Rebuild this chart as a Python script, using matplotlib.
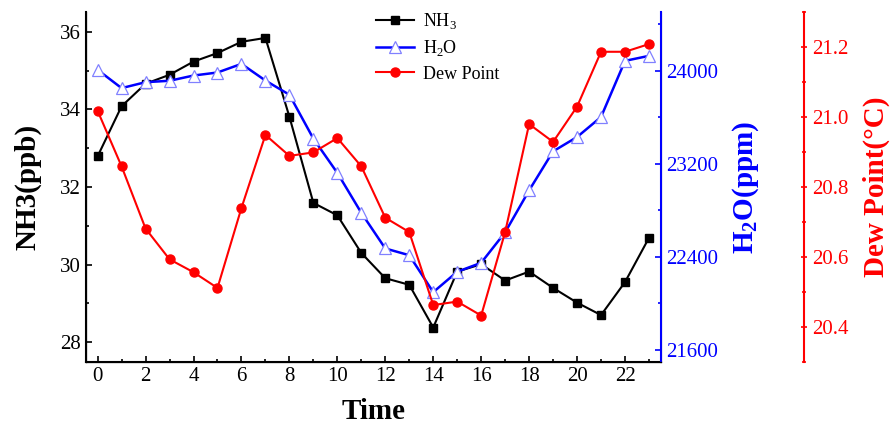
import numpy as np
import matplotlib
matplotlib.use("Agg")
import matplotlib.pyplot as plt
from matplotlib.ticker import MultipleLocator

plt.rcParams['font.family'] = ['Liberation Serif', 'DejaVu Serif']
plt.rcParams['mathtext.fontset'] = 'custom'
plt.rcParams['mathtext.rm'] = 'Liberation Serif'
plt.rcParams['mathtext.bf'] = 'Liberation Serif:bold'

hours = list(range(24))
nh3 = [32.79, 34.08, 34.66, 34.89, 35.23, 35.45, 35.74, 35.84, 33.81, 31.59,
       31.27, 30.30, 29.65, 29.48, 28.38, 29.82, 30.01, 29.59, 29.82, 29.40,
       29.02, 28.70, 29.55, 30.69]
h2o = [24006, 23849, 23900, 23912, 23957, 23983, 24057, 23914, 23792, 23415,
       23121, 22778, 22472, 22414, 22097, 22272, 22349, 22611, 22971, 23306,
       23429, 23601, 24083, 24126]
dew = [21.018, 20.859, 20.681, 20.593, 20.556, 20.511, 20.740, 20.949, 20.889, 20.899,
       20.940, 20.859, 20.712, 20.671, 20.462, 20.472, 20.432, 20.671, 20.980, 20.929,
       21.030, 21.187, 21.187, 21.209]

fig = plt.figure(figsize=(8.92, 4.24), dpi=100)
ax = fig.add_axes([0.096, 0.147, 0.645, 0.824])
ax2 = ax.twinx()
ax3 = ax.twinx()
ax3.spines['right'].set_position(('axes', 1.249))

l1, = ax.plot(hours, nh3, '-s', color='black', lw=1.5, ms=5.5, label='NH$_3$')
l2, = ax2.plot(hours, h2o, '-^', color='blue', lw=1.8, ms=8, mfc='white',
               mec='#8080ff', mew=0.9, label='H$_2$O')
l3, = ax3.plot(hours, dew, '-o', color='red', lw=1.5, ms=6.5, label='Dew Point')

ax.set_xlim(-0.5, 23.5)
ax.set_ylim(27.5, 36.5)
ax2.set_ylim(21500, 24500)
ax3.set_ylim(20.3, 21.3)

ax.xaxis.set_major_locator(MultipleLocator(2))
ax.xaxis.set_minor_locator(MultipleLocator(1))
ax.yaxis.set_major_locator(MultipleLocator(2))
ax.yaxis.set_minor_locator(MultipleLocator(1))
ax2.yaxis.set_major_locator(MultipleLocator(800))
ax2.yaxis.set_minor_locator(MultipleLocator(400))
ax3.yaxis.set_major_locator(MultipleLocator(0.2))
ax3.yaxis.set_minor_locator(MultipleLocator(0.1))
ax3.yaxis.set_major_formatter(plt.FormatStrFormatter('%.1f'))

ax.spines['top'].set_visible(False)
ax2.spines['top'].set_visible(False)
ax3.spines['top'].set_visible(False)
ax.spines['left'].set_linewidth(1.5)
ax.spines['bottom'].set_linewidth(1.5)
ax2.spines['right'].set_color('blue')
ax2.spines['right'].set_linewidth(1.5)
ax3.spines['right'].set_color('red')
ax3.spines['right'].set_linewidth(1.5)

ax.tick_params(which='both', direction='in', labelsize=15, top=False, right=False)
ax.tick_params(which='major', length=4, width=1.2)
ax.tick_params(which='minor', length=2.5, width=1.2)
ax2.tick_params(which='both', direction='in', colors='blue', labelsize=15, width=1.2)
ax2.tick_params(which='major', length=4)
ax2.tick_params(which='minor', length=2.5)
ax3.tick_params(which='both', direction='inout', colors='red', labelsize=15, width=1.2)
ax3.tick_params(which='major', length=5)
ax3.tick_params(which='minor', length=3)

ax.set_xlabel('Time', fontsize=21, fontweight='bold', labelpad=9)
ax.set_ylabel('NH3(ppb)', fontsize=21, fontweight='bold')
ax2.set_ylabel(r'H$_\mathbf{2}$O(ppm)', fontsize=21, fontweight='bold', color='blue')
ax3.set_ylabel('Dew Point(°C)', fontsize=21, fontweight='bold', color='red')
ax.yaxis.set_label_coords(-0.076, 0.5)
ax2.yaxis.set_label_coords(1.120, 0.5)
ax3.yaxis.set_label_coords(1.351, 0.5)

ax.legend(handles=[l1, l2, l3], loc='upper left', bbox_to_anchor=(0.476, 1.05),
          frameon=False, fontsize=13, handlelength=2.1, handletextpad=0.5,
          labelspacing=0.4)

fig.savefig('out.png', dpi=100)
